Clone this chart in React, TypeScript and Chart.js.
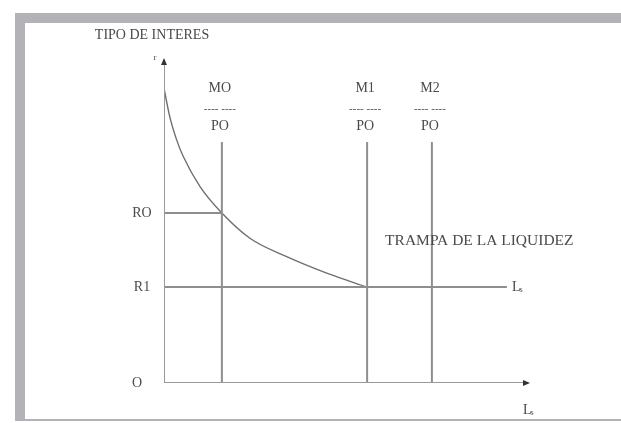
import React, { useEffect, useRef } from "react";
import { Chart, registerables } from "chart.js";

Chart.register(...registerables);

const yAxisTitle = "TIPO DE INTERES";
const yAxisSymbol = "r";
const originLabel = "O";
const trapLabel = "TRAMPA DE LA LIQUIDEZ";
const moneyLabels = ["MO", "M1", "M2"];
const priceLabel = "PO";
const moneyX = [15.9, 55.8, 73.6];
const moneyTopY = 74.6;
const rateLabels = ["RO", "R1"];
const rateY = [52.6, 29.7];
const trapEndX = 94.2;
const curveX = [0, 1.6, 3.5, 5.3, 9.9, 15.9, 23.6, 33.7, 44.7, 55.8];
const curveY = [91.3, 82.4, 75.2, 70.1, 60.8, 52.6, 44.8, 39.1, 34.0, 29.7];

const LINE = "#8e8e8e";
const TEXT = "#4a4a4a";
const FONT = "'Liberation Serif', 'DejaVu Serif', serif";

export default function App() {
  const ref = useRef<HTMLCanvasElement | null>(null);

  useEffect(() => {
    if (!ref.current) return;
    const seg = (pts: { x: number; y: number }[], color = LINE, width = 2) => ({
      data: pts,
      showLine: true,
      borderColor: color,
      borderWidth: width,
      pointRadius: 0,
      fill: false,
    });

    const datasets: any[] = [];
    // axes
    datasets.push(seg([{ x: 0, y: 0 }, { x: 100, y: 0 }], "#999999", 2));
    datasets.push(seg([{ x: 0, y: 0 }, { x: 0, y: 100 }], "#999999", 2));
    // money supply verticals
    moneyX.forEach((mx) => datasets.push(seg([{ x: mx, y: 0 }, { x: mx, y: moneyTopY }])));
    // rate horizontals
    datasets.push(seg([{ x: 0, y: rateY[0] }, { x: moneyX[0], y: rateY[0] }]));
    datasets.push(seg([{ x: 0, y: rateY[1] }, { x: trapEndX, y: rateY[1] }]));
    // liquidity preference curve
    datasets.push({
      ...seg(curveX.map((x, i) => ({ x, y: curveY[i] })), "#6f6f6f", 1.4),
      cubicInterpolationMode: "monotone",
    });

    const decor = {
      id: "decor",
      beforeDraw(chart: any) {
        const c = chart.ctx;
        c.save();
        c.fillStyle = "#ffffff";
        c.fillRect(0, 0, chart.width, chart.height);
        c.fillStyle = "#b3b3b7";
        c.fillRect(15, 13, chart.width - 15, 10);
        c.fillRect(15, 13, 10, 408);
        c.fillRect(15, 419, chart.width - 15, 2);
        c.restore();
      },
      afterDraw(chart: any) {
        const c = chart.ctx;
        const xs = chart.scales.x;
        const ys = chart.scales.y;
        const { left, right, top, bottom } = chart.chartArea;
        c.save();
        // arrowheads
        c.fillStyle = "#333333";
        c.beginPath();
        c.moveTo(left, top - 2);
        c.lineTo(left - 3, top + 5);
        c.lineTo(left + 3, top + 5);
        c.closePath();
        c.fill();
        c.beginPath();
        c.moveTo(right + 2, bottom);
        c.lineTo(right - 5, bottom - 3);
        c.lineTo(right - 5, bottom + 3);
        c.closePath();
        c.fill();

        c.fillStyle = TEXT;
        c.textBaseline = "middle";
        c.textAlign = "center";
        c.font = `14px ${FONT}`;
        c.fillText(yAxisTitle, left - 12, 35);
        c.font = `9px ${FONT}`;
        c.fillText(yAxisSymbol, left - 9, top - 2);

        const lineTop = ys.getPixelForValue(moneyTopY);
        moneyX.forEach((mx, i) => {
          const px = xs.getPixelForValue(mx) - 2;
          c.font = `14px ${FONT}`;
          c.fillText(moneyLabels[i], px, lineTop - 54);
          c.fillText(priceLabel, px, lineTop - 16);
          c.font = `11px ${FONT}`;
          c.fillText("---- ----", px, lineTop - 33);
        });

        c.font = `14px ${FONT}`;
        rateLabels.forEach((lb, i) => {
          c.fillText(lb, left - 22, ys.getPixelForValue(rateY[i]));
        });
        c.fillText(originLabel, left - 27, bottom);

        c.textAlign = "left";
        c.font = `15.5px ${FONT}`;
        c.fillText(trapLabel, xs.getPixelForValue(moneyX[1]) + 18, ys.getPixelForValue(rateY[1]) - 46);

        const drawLs = (x: number, y: number) => {
          c.font = `14px ${FONT}`;
          c.fillText("L", x, y);
          const w = c.measureText("L").width;
          c.font = `8px ${FONT}`;
          c.fillText("s", x + w - 1, y + 3);
        };
        drawLs(xs.getPixelForValue(trapEndX) + 5, ys.getPixelForValue(rateY[1]));
        drawLs(right - 5, bottom + 27);
        c.restore();
      },
    };

    const chart = new Chart(ref.current, {
      type: "scatter",
      data: { datasets },
      options: {
        animation: false,
        responsive: false,
        devicePixelRatio: 1,
        layout: { padding: { left: 164, right: 93, top: 60, bottom: 40 } },
        plugins: { legend: { display: false }, tooltip: { enabled: false } },
        scales: {
          x: { type: "linear", min: 0, max: 100, display: false },
          y: { type: "linear", min: 0, max: 100, display: false },
        },
      },
      plugins: [decor],
    });
    return () => chart.destroy();
  }, []);

  return (
    <div style={{ position: "fixed", left: 0, top: 0, width: 621, height: 423, background: "#fff" }}>
      <canvas ref={ref} width={621} height={423} style={{ display: "block", width: 621, height: 423 }} />
    </div>
  );
}
